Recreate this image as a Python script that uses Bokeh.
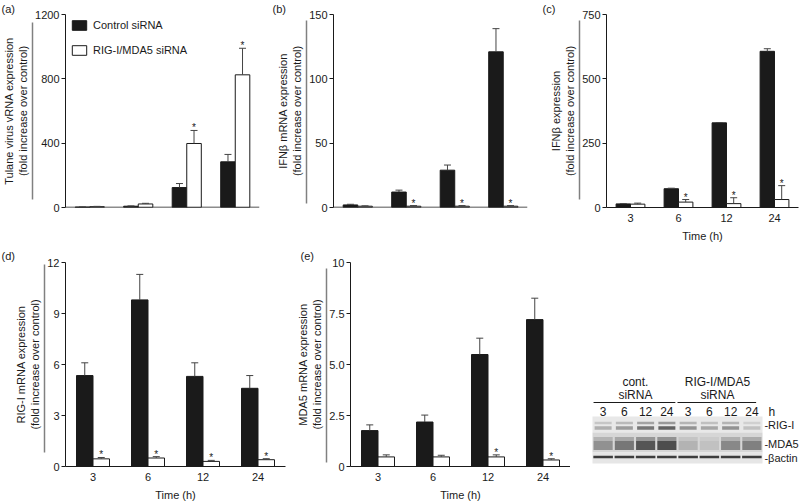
from bokeh.plotting import figure
from bokeh.models import (ColumnDataSource, FactorRange, Range1d, LinearAxis, FixedTicker,
                          Whisker, TeeHead, Span)
from bokeh.transform import dodge
from bokeh.layouts import column, row
from bokeh.core.properties import value
from bokeh.embed import file_html
from bokeh.resources import INLINE

FONT = "Liberation Sans"
FS = "11px"

# ---------------- data ----------------
times = ["3", "6", "12", "24"]

tulane_ctrl = [3, 8, 124, 284]
tulane_ctrl_err = [1, 2, 25, 46]
tulane_kd = [5, 22, 398, 825]
tulane_kd_err = [2, 4, 81, 165]
tulane_star = ["", "", "*", "*"]

ifnb_mrna_ctrl = [2, 12, 29, 121]
ifnb_mrna_ctrl_err = [0.5, 1.5, 4, 18]
ifnb_mrna_kd = [1.0, 1.0, 1.0, 1.0]
ifnb_mrna_kd_err = [0.3, 0.5, 0.5, 0.5]
ifnb_mrna_star = ["", "*", "*", "*"]

ifnb_ctrl = [14, 73, 329, 607]
ifnb_ctrl_err = [1, 2, 1, 10]
ifnb_kd = [13, 21, 15, 31]
ifnb_kd_err = [4, 10, 23, 54]
ifnb_star = ["", "*", "*", "*"]

rigi_ctrl = [5.35, 9.8, 5.3, 4.6]
rigi_ctrl_err = [0.75, 1.5, 0.8, 0.75]
rigi_kd = [0.45, 0.5, 0.3, 0.4]
rigi_kd_err = [0.08, 0.08, 0.06, 0.06]
rigi_star = ["*", "*", "*", "*"]

mda5_ctrl = [1.76, 2.18, 5.49, 7.2]
mda5_ctrl_err = [0.28, 0.34, 0.8, 1.05]
mda5_kd = [0.47, 0.47, 0.47, 0.32]
mda5_kd_err = [0.1, 0.08, 0.1, 0.06]
mda5_star = ["", "", "*", "*"]

blot_lanes = ["3", "6", "12", "24", "3", "6", "12", "24"]
blot_group_top = ["cont.", "RIG-I/MDA5"]
blot_group_bottom = ["siRNA", "siRNA"]
blot_proteins = ["-RIG-I", "-MDA5", "-\u03b2actin"]
rigi_band = [0.3, 0.4, 0.6, 0.7, 0.45, 0.35, 0.45, 0.2]
mda5_band = [0.4, 0.55, 0.75, 0.8, 0.2, 0.12, 0.45, 0.5]
actin_band = [0.85, 0.85, 0.85, 0.85, 0.85, 0.85, 0.85, 0.85]

BLACK = "#1a1a1a"
ERR = "#444444"
GRAY = "#808080"


def bar_panel(letter, ctrl, ctrl_err, kd, kd_err, star, ymax, ticks, ylabel,
              width, height, left, right, top, bottom, pad, gbounds, show_x,
              letter_dx, title_standoff, overrides=None, legend=False):
    p = figure(width=width, height=height,
               x_range=FactorRange(factors=times, range_padding=0),
               y_range=Range1d(0, ymax),
               output_backend="svg", toolbar_location=None,
               min_border_left=left, min_border_right=right,
               min_border_top=top, min_border_bottom=bottom)
    p.xgrid.grid_line_color = None
    p.ygrid.grid_line_color = None
    p.outline_line_color = None

    # panel letter as the figure title, pushed into the left margin
    p.title.text = letter
    p.title.align = "left"
    p.title.offset = letter_dx
    p.title.standoff = title_standoff
    p.title.text_font = FONT
    p.title.text_font_size = FS
    p.title.text_font_style = "normal"
    p.title.text_color = BLACK

    src = ColumnDataSource(dict(
        t=times, ctrl=ctrl, kd=kd,
        ctrl_up=[c + e for c, e in zip(ctrl, ctrl_err)],
        kd_up=[c + e for c, e in zip(kd, kd_err)]))

    kw1 = dict(legend_label="Control siRNA") if legend else {}
    kw2 = dict(legend_label="RIG-I/MDA5 siRNA") if legend else {}
    p.vbar(x=dodge("t", -0.15, range=p.x_range), top="ctrl", width=0.3, source=src,
           fill_color=BLACK, line_color=BLACK, line_width=1, **kw1)
    p.vbar(x=dodge("t", 0.15, range=p.x_range), top="kd", width=0.3, source=src,
           fill_color="white", line_color=BLACK, line_width=1, **kw2)

    for off, lo, up in ((-0.15, "ctrl", "ctrl_up"), (0.15, "kd", "kd_up")):
        p.add_layout(Whisker(source=src, base=dodge("t", off, range=p.x_range),
                             lower=lo, upper=up, line_color=ERR, line_width=1,
                             upper_head=TeeHead(size=7, line_color=ERR, line_width=1),
                             lower_head=None, level="overlay"))

    ssrc = ColumnDataSource(dict(
        t=[t for t, s in zip(times, star) if s],
        y=[k + e for k, e, s in zip(kd, kd_err, star) if s],
        s=[s for s in star if s]))
    p.text(x=dodge("t", 0.15, range=p.x_range), y="y", text="s", source=ssrc,
           text_align="center", text_baseline="bottom", text_font=value(FONT),
           text_font_size="10px", text_color=BLACK, y_offset=3)

    # x axis
    if show_x:
        xa = p.xaxis[0]
        xa.axis_line_color = BLACK
        xa.major_tick_line_color = None
        xa.minor_tick_line_color = None
        xa.major_tick_out = 0
        xa.major_tick_in = 0
        xa.major_label_text_font = FONT
        xa.major_label_text_font_size = FS
        xa.major_label_text_color = BLACK
        xa.major_label_standoff = 6
        xa.axis_label = "Time (h)"
        xa.axis_label_text_font = FONT
        xa.axis_label_text_font_size = FS
        xa.axis_label_text_font_style = "normal"
        xa.axis_label_text_color = BLACK
        xa.axis_label_standoff = 5
    else:
        p.xaxis.visible = False
        p.add_layout(Span(location=0, dimension="width", line_color=BLACK, line_width=1.5))

    # y axis
    ya = p.yaxis[0]
    ya.ticker = FixedTicker(ticks=ticks)
    ya.axis_line_color = BLACK
    ya.major_tick_line_color = BLACK
    ya.major_tick_out = 4
    ya.major_tick_in = 0
    ya.minor_tick_line_color = None
    ya.minor_tick_out = 0
    ya.major_label_text_font = FONT
    ya.major_label_text_font_size = FS
    ya.major_label_text_color = BLACK
    ya.major_label_standoff = 2
    if overrides:
        ya.major_label_overrides = overrides

    # invisible spacer between value axis and the grey bracket
    sp = LinearAxis(ticker=FixedTicker(ticks=[]), axis_line_color=None,
                    major_tick_line_color=None, minor_tick_line_color=None,
                    major_tick_out=pad, minor_tick_out=0, major_tick_in=0,
                    major_label_standoff=0)
    p.add_layout(sp, "left")

    ga = LinearAxis(ticker=FixedTicker(ticks=[]),
                    bounds=(gbounds[0] * ymax, gbounds[1] * ymax),
                    axis_line_color=GRAY, axis_line_width=1.5,
                    major_tick_line_color=None, minor_tick_line_color=None,
                    major_tick_out=0, minor_tick_out=0, major_tick_in=0,
                    major_label_standoff=0,
                    axis_label=ylabel, axis_label_text_font=FONT,
                    axis_label_text_font_size=FS, axis_label_text_font_style="normal",
                    axis_label_text_color=BLACK, axis_label_standoff=4,
                    axis_label_text_line_height=1.1)
    p.add_layout(ga, "left")

    if legend:
        lg = p.legend[0]
        lg.location = "top_left"
        lg.margin = 5
        lg.padding = 0
        lg.spacing = 13
        lg.glyph_width = 18
        lg.glyph_height = 12
        lg.label_height = 12
        lg.label_standoff = 5
        lg.label_text_font = FONT
        lg.label_text_font_size = FS
        lg.label_text_color = BLACK
        lg.border_line_color = None
        lg.background_fill_alpha = 0
    return p


H1, H2 = 245, 258

pa = bar_panel("(a)", tulane_ctrl, tulane_ctrl_err, tulane_kd, tulane_kd_err, tulane_star,
               1200, [0, 400, 800, 1200],
               "Tulane virus vRNA expression\n(fold increase over control)",
               262, H1, 65, 3, 14, 38, 2, (0.04, 0.96), False, -64, 0, legend=True)
pb = bar_panel("(b)", ifnb_mrna_ctrl, ifnb_mrna_ctrl_err, ifnb_mrna_kd, ifnb_mrna_kd_err,
               ifnb_mrna_star, 150, [0, 50, 100, 150],
               "IFN\u03b2 mRNA expression\n(fold increase over control)",
               268, H1, 71, 3, 14, 38, 4, (0.02, 0.97), False, -61, 0)
pc = bar_panel("(c)", ifnb_ctrl, ifnb_ctrl_err, ifnb_kd, ifnb_kd_err, ifnb_star,
               750, [0, 250, 500, 750],
               "IFN\u03b2 expression\n(fold increase over control)",
               270, H1, 76, 2, 14, 38, 8, (0.04, 0.97), True, -64, 0)

pd_ = bar_panel("(d)", rigi_ctrl, rigi_ctrl_err, rigi_kd, rigi_kd_err, rigi_star,
                12, [0, 3, 6, 9, 12],
                "RIG-I mRNA expression\n(fold increase over control)",
                288, H2, 65, 3, 17, 37, 12, (0.07, 0.99), True, -64, 2)
pe = bar_panel("(e)", mda5_ctrl, mda5_ctrl_err, mda5_kd, mda5_kd_err, mda5_star,
               10, [0, 2.5, 5, 7.5, 10],
               "MDA5 mRNA expression\n(fold increase over control)",
               282, H2, 62, 0, 17, 37, 9, (0.02, 0.97), True, -50, 2,
               overrides={0: "0", 2.5: "2.5", 5: "5.0", 7.5: "7.5", 10: "10"})

# ---------------- western blot panel ----------------
# its frame shares the top/bottom borders of panel (e): rows 262..466 of the page
pw = figure(width=230, height=H2,
            x_range=Range1d(-1.035, 9.788), y_range=Range1d(-3, 201),
            x_axis_location=None, y_axis_location=None,
            output_backend="svg", toolbar_location=None,
            min_border_left=0, min_border_right=0, min_border_top=17, min_border_bottom=37)
pw.title.text = ""
pw.title.standoff = 0
pw.title.text_font_size = "0px"
pw.xgrid.grid_line_color = None
pw.ygrid.grid_line_color = None
pw.outline_line_color = None

n = len(blot_lanes)
lane_x = [i + 0.5 for i in range(n)]
pw.quad(left=[0, 0, 0], right=[n, n, n], bottom=[31, 11, 0], top=[47, 31, 11],
        fill_color=["#e8e8e8", "#d6d6d6", "#e6e6e6"], line_color=None)
bsrc = ColumnDataSource(dict(x=lane_x, lane=blot_lanes, rig=rigi_band, mda=mda5_band,
                             act=actin_band,
                             rig2=[v * 0.6 for v in rigi_band],
                             mda2=[v * 0.5 for v in mda5_band]))
pw.rect(x="x", y=35.5, width=0.8, height=3.5, source=bsrc, fill_color="#2a2a2a",
        fill_alpha="rig", line_color=None)
pw.rect(x="x", y=40.5, width=0.8, height=2.5, source=bsrc, fill_color="#2a2a2a",
        fill_alpha="rig2", line_color=None)
pw.rect(x="x", y=18, width=0.9, height=9, source=bsrc, fill_color="#2a2a2a",
        fill_alpha="mda", line_color=None)
pw.rect(x="x", y=24.5, width=0.9, height=4, source=bsrc, fill_color="#2a2a2a",
        fill_alpha="mda2", line_color=None)
pw.rect(x="x", y=6.5, width=0.92, height=2.5, source=bsrc, fill_color="#1e1e1e",
        fill_alpha="act", line_color=None)

pw.text(x="x", y=52, text="lane", source=bsrc, text_align="center", text_baseline="middle",
        text_font=value(FONT), text_font_size="12px", text_color=BLACK)
pw.text(x=[8.28], y=[52], text=["h"], text_align="left", text_baseline="middle",
        text_font=value(FONT), text_font_size="12px", text_color=BLACK)
gsrc = ColumnDataSource(dict(x=[2.02, 5.88], t1=blot_group_top, t2=blot_group_bottom))
pw.text(x="x", y=82, text="t1", source=gsrc, text_align="center", text_baseline="middle",
        text_font=value(FONT), text_font_size="12px", text_color=BLACK)
pw.text(x="x", y=69, text="t2", source=gsrc, text_align="center", text_baseline="middle",
        text_font=value(FONT), text_font_size="12px", text_color=BLACK)
pw.segment(x0=[0.05, 4.0], x1=[3.9, 7.7], y0=[61, 61], y1=[61, 61],
           line_color=BLACK, line_width=1)
pw.text(x=[8.09, 8.09, 8.09], y=[39, 20, 6], text=blot_proteins, text_align="left",
        text_baseline="middle", text_font=value(FONT), text_font_size="11px",
        text_color=BLACK)

layout = column(row(pa, pb, pc), row(pd_, pe, pw))

open("out.html", "w").write(file_html(layout, INLINE))
